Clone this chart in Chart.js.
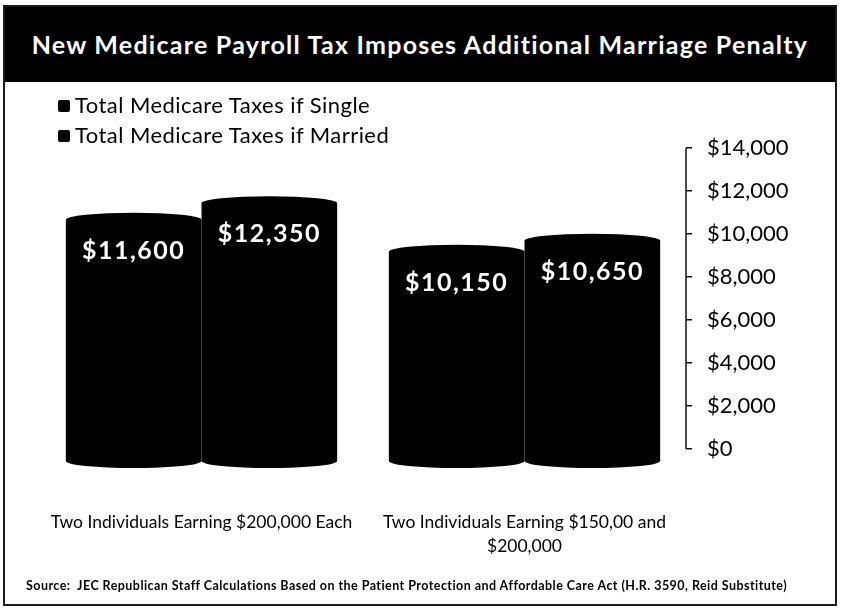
<!DOCTYPE html>
<html>
<head>
<meta charset="utf-8">
<title>New Medicare Payroll Tax Imposes Additional Marriage Penalty</title>
<script src="https://cdn.jsdelivr.net/npm/chart.js@4.4.1/dist/chart.umd.min.js"></script>
<style>
  html, body { margin: 0; padding: 0; background: #fff; }
  body { width: 842px; height: 609px; position: relative; overflow: hidden; font-family: Lato, "DejaVu Sans", sans-serif; }
  #frame { position: absolute; left: 3px; top: 5px; width: 834px; height: 601px; box-sizing: border-box; border: 2px solid #1a1a1a; }
  #header { position: absolute; left: 0; top: 0; right: 0; height: 75px; background: #000; color: #fff;
            font-weight: bold; font-size: 25px; text-align: center; line-height: 75px; letter-spacing: 1.25px; }
  #legend { position: absolute; left: 58px; top: 90px; font-size: 22px; letter-spacing: 0.45px; color: #000; }
  #legend div { height: 30px; line-height: 30px; white-space: nowrap; }
  #legend span.box { display: inline-block; width: 12px; height: 12px; background: #000; border-radius: 2px; margin-right: 5px; vertical-align: 1px; }
  #source { position: absolute; left: 26px; top: 578px; font-size: 12.5px; letter-spacing: 0.45px; font-weight: bold; color: #000; white-space: nowrap; }
  #chartWrap { position: absolute; left: 0; top: 0; width: 842px; height: 609px; }
</style>
</head>
<body>
<div id="frame"><div id="header">New Medicare Payroll Tax Imposes Additional Marriage Penalty</div></div>
<div id="chartWrap"><canvas id="chart" width="842" height="609"></canvas></div>
<div id="legend"></div>
<div id="source">Source:&nbsp; JEC Republican Staff Calculations Based on the Patient Protection and Affordable Care Act (H.R. 3590, Reid Substitute)</div>
<script>
// Chart data
const categories = [
  'Two Individuals Earning $200,000 Each',
  ['Two Individuals Earning $150,00 and', '$200,000']
];
const seriesNames = ['Total Medicare Taxes if Single', 'Total Medicare Taxes if Married'];
const singleTaxes = [11600, 10150];
const marriedTaxes = [12350, 10650];
const yTicks = [0, 2000, 4000, 6000, 8000, 10000, 12000, 14000];

const money = v => '$' + v.toLocaleString('en-US');

// Simple html legend, stacked like the original
document.getElementById('legend').innerHTML = seriesNames
  .map(name => `<div><span class="box"></span>${name}</div>`).join('');

// Draws each bar as a cylinder and puts the value label inside it
const cylinderPlugin = {
  id: 'cylinders',
  afterDatasetsDraw(chart) {
    const ctx = chart.ctx;
    chart.data.datasets.forEach((ds, i) => {
      const meta = chart.getDatasetMeta(i);
      meta.data.forEach((bar, j) => {
        const { x, y, base, width } = bar.getProps(['x', 'y', 'base', 'width'], true);
        const rx = width / 2;
        const ry = 7;
        ctx.save();
        ctx.fillStyle = '#000';
        ctx.beginPath();
        ctx.moveTo(x - rx, y + ry);
        ctx.ellipse(x, y + ry, rx, ry, 0, Math.PI, 2 * Math.PI);
        ctx.lineTo(x + rx, base - ry);
        ctx.ellipse(x, base - ry, rx, ry, 0, 0, Math.PI);
        ctx.closePath();
        ctx.fill();

        ctx.fillStyle = '#fff';
        ctx.font = 'bold 25px Lato, "DejaVu Sans", sans-serif';
        ctx.letterSpacing = '1.5px';
        ctx.textAlign = 'center';
        ctx.textBaseline = 'middle';
        ctx.fillText(money(ds.data[j]), x, y + 38);
        ctx.restore();
      });
    });
  }
};

// Axis line of the right scale, from $0 up to the top tick
const axisLinePlugin = {
  id: 'axisLine',
  afterDraw(chart) {
    const s = chart.scales.y;
    const ctx = chart.ctx;
    ctx.save();
    ctx.strokeStyle = '#111';
    ctx.lineWidth = 1.5;
    ctx.beginPath();
    ctx.moveTo(s.left, s.getPixelForValue(yTicks[yTicks.length - 1]));
    ctx.lineTo(s.left, s.getPixelForValue(0));
    ctx.stroke();
    ctx.restore();
  }
};

new Chart(document.getElementById('chart'), {
  type: 'bar',
  data: {
    labels: categories,
    datasets: [
      { label: seriesNames[0], data: singleTaxes, yAxisID: 'yb', backgroundColor: 'rgba(0,0,0,0)' },
      { label: seriesNames[1], data: marriedTaxes, yAxisID: 'yb', backgroundColor: 'rgba(0,0,0,0)' }
    ]
  },
  options: {
    responsive: false,
    animation: false,
    events: [],
    layout: { padding: { left: 40, top: 148, right: 46, bottom: 26 } },
    datasets: { bar: { categoryPercentage: 0.84, barPercentage: 1.0 } },
    plugins: {
      legend: { display: false },
      tooltip: { enabled: false }
    },
    scales: {
      x: {
        grid: { display: false },
        border: { display: false },
        ticks: {
          color: '#000',
          padding: 35,
          maxRotation: 0,
          autoSkip: false,
          font: { family: 'Lato', size: 17.5, lineHeight: 1.35 }
        },
        afterFit: scale => { scale.height = 115; }
      },
      // visible value axis on the right; $0 sits a little above the cylinder bases
      y: {
        position: 'right',
        min: -880,
        max: 14000,
        afterBuildTicks: scale => { scale.ticks = yTicks.map(v => ({ value: v })); },
        grid: { drawOnChartArea: false, drawTicks: true, tickLength: 6, color: '#111', lineWidth: 1.5 },
        border: { display: false },
        ticks: {
          color: '#000',
          padding: 15,
          font: { family: 'Lato', size: 22 },
          callback: v => money(v)
        },
        afterFit: scale => { scale.width = 110; }
      },
      // hidden scale the cylinders stand on
      yb: {
        display: false,
        min: 0,
        max: 14545
      }
    }
  },
  plugins: [cylinderPlugin, axisLinePlugin]
});
</script>
</body>
</html>
